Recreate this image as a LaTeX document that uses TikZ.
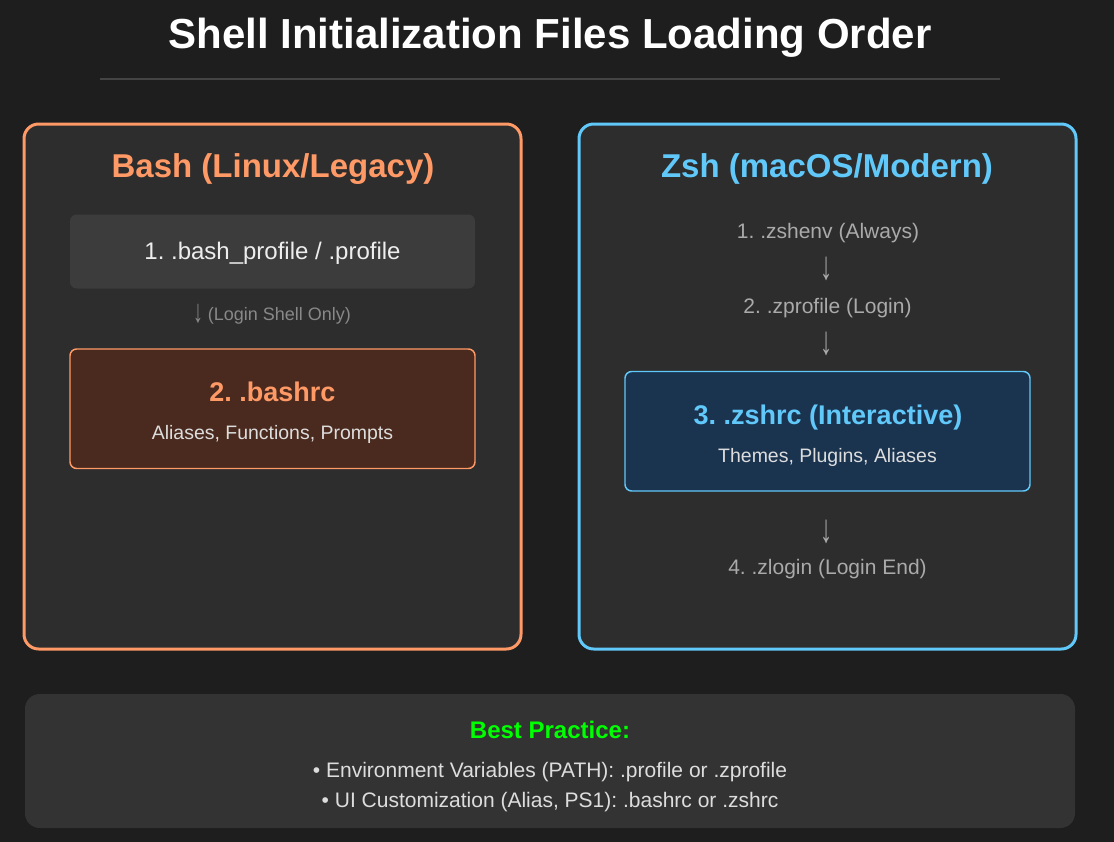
\documentclass[tikz,border=0pt]{standalone}
\usepackage{fontspec}
\setmainfont{Liberation Sans}
\frenchspacing
\definecolor{bgc}{HTML}{1E1E1E}
\definecolor{panelc}{HTML}{2D2D2D}
\definecolor{orangec}{HTML}{FF9966}
\definecolor{bluec}{HTML}{61C8FA}
\definecolor{boxonec}{HTML}{3C3C3C}
\definecolor{boxtwoc}{HTML}{4A2A1E}
\definecolor{boxthreec}{HTML}{1A3450}
\definecolor{bottomc}{HTML}{333333}
\definecolor{greenc}{HTML}{00FF00}
\definecolor{divc}{HTML}{444444}
\definecolor{lightc}{HTML}{EEEEEE}
\definecolor{subc}{HTML}{DDDDDD}
\definecolor{grayc}{HTML}{AAAAAA}
\definecolor{dimc}{HTML}{888888}
\newcommand{\tallarrow}{\scalebox{1.15}[1.9]{↓}}
\tikzset{
  txt/.style={inner sep=0pt, anchor=base},
  panel/.style={draw, line width=2.25pt, fill=panelc, rounded corners=11pt},
  filebox/.style={rounded corners=5pt},
  arrowtxt/.style={inner sep=0pt, text=grayc, font=\fontsize{15.75pt}{19pt}\selectfont},
}
\begin{document}
\begin{tikzpicture}[x=0.75pt,y=-0.75pt]
\useasboundingbox (0,0) rectangle (1114,842);
\fill[bgc] (0,0) rectangle (1114,842);

% title
\node[txt, text=white, font=\fontsize{31.5pt}{36pt}\selectfont\bfseries] (title) at (550,49) {Shell Initialization Files Loading Order};
\draw[divc, line width=2pt] (100,79) -- (1000,79);

% panels
\draw[panel, draw=orangec] (24,124) rectangle (521,649);
\draw[panel, draw=bluec] (579,124) rectangle (1076,649);

% bash side
\node[txt, text=orangec, font=\fontsize{24.75pt}{30pt}\selectfont\bfseries] (bashtitle) at (273,177) {Bash (Linux/Legacy)};
\fill[boxonec, filebox] (70,214.5) rectangle (475,288.5);
\node[txt, text=lightc, font=\fontsize{18pt}{22pt}\selectfont] (bashprofile) at (272.5,259.5) {1. .bash\_profile / .profile};
\node[txt, text=dimc, font=\fontsize{13.5pt}{16pt}\selectfont] (loginonly) at (272,320) {\raisebox{-0.25ex}{\scalebox{1.1}[1.8]{↓}} (Login Shell Only)};
\draw[filebox, draw=orangec, line width=1.1pt, fill=boxtwoc] (70,349) rectangle (475,468.5);
\node[txt, text=orangec, font=\fontsize{20.25pt}{24pt}\selectfont\bfseries] (bashrc) at (272.5,401.5) {2. .bashrc};
\node[txt, text=subc, font=\fontsize{14.6pt}{18pt}\selectfont] (bashrcsub) at (272.5,439) {Aliases, Functions, Prompts};

% zsh side
\node[txt, text=bluec, font=\fontsize{24.75pt}{30pt}\selectfont\bfseries] (zshtitle) at (827,177) {Zsh (macOS/Modern)};
\node[txt, text=grayc, font=\fontsize{15.75pt}{19pt}\selectfont] (zshenv) at (828,238) {1. .zshenv (Always)};
\node[arrowtxt] (arrowa) at (827,269) {\tallarrow};
\node[txt, text=grayc, font=\fontsize{15.75pt}{19pt}\selectfont] (zprofile) at (827.5,313) {2. .zprofile (Login)};
\node[arrowtxt] (arrowb) at (827,344) {\tallarrow};
\draw[filebox, draw=bluec, line width=1.1pt, fill=boxthreec] (625,371.5) rectangle (1030,491);
\node[txt, text=bluec, font=\fontsize{20.25pt}{24pt}\selectfont\bfseries] (zshrc) at (828,424) {3. .zshrc (Interactive)};
\node[txt, text=subc, font=\fontsize{14.6pt}{18pt}\selectfont] (zshrcsub) at (827.5,462) {Themes, Plugins, Aliases};
\node[arrowtxt] (arrowc) at (827,532) {\tallarrow};
\node[txt, text=grayc, font=\fontsize{15.75pt}{19pt}\selectfont] (zlogin) at (827.5,574.5) {4. .zlogin (Login End)};

% bottom
\fill[bottomc, rounded corners=11pt] (25,694) rectangle (1075,828);
\node[txt, text=greenc, font=\fontsize{18pt}{22pt}\selectfont\bfseries] (best) at (550,738) {Best Practice:};
\node[txt, text=subc, font=\fontsize{15.75pt}{19pt}\selectfont] (envline) at (550,777) {• Environment Variables (PATH): .profile or .zprofile};
\node[txt, text=subc, font=\fontsize{15.75pt}{19pt}\selectfont] (uiline) at (550,807) {• UI Customization (Alias, PS1): .bashrc or .zshrc};
\end{tikzpicture}
\end{document}
